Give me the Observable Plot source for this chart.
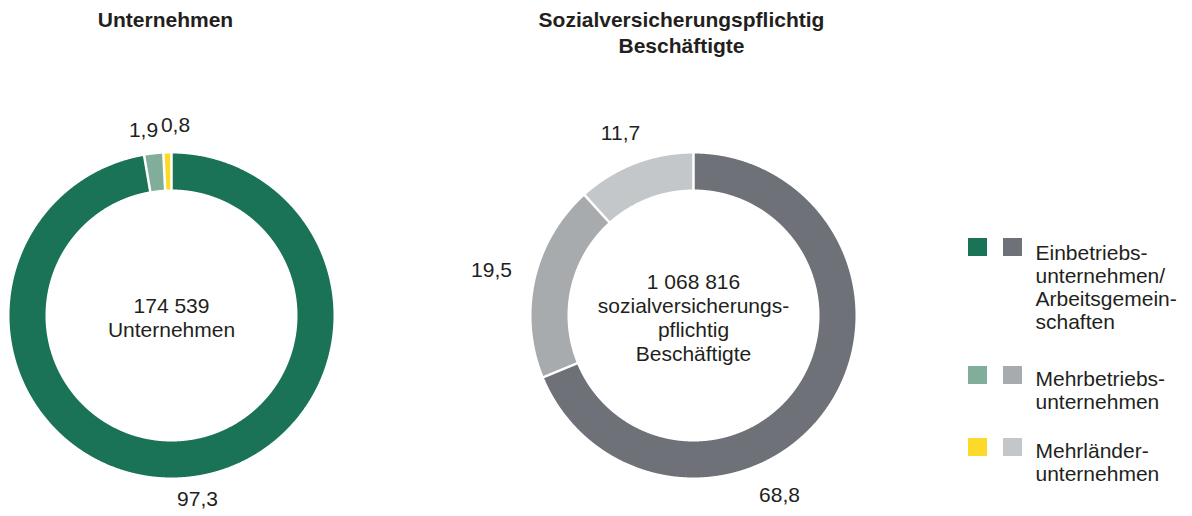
<!DOCTYPE html>
<html><head><meta charset="utf-8">
<script src="https://cdn.jsdelivr.net/npm/d3@7"></script>
<script src="https://cdn.jsdelivr.net/npm/@observablehq/plot@0.6"></script>
<style>html,body{margin:0;padding:0;background:#fff} svg{display:block}</style>
</head><body><div id="chart"></div>
<script>
// ---- data ----
const panelTitles = ["Unternehmen", "Sozialversicherungspflichtig\nBeschäftigte"];
const categories = ["Einbetriebsunternehmen/Arbeitsgemeinschaften", "Mehrbetriebsunternehmen", "Mehrländerunternehmen"];
const unternehmenShares = [97.3, 1.9, 0.8];
const beschaeftigteShares = [68.8, 19.5, 11.7];
const unternehmenLabels = ["97,3", "1,9", "0,8"];
const beschaeftigteLabels = ["68,8", "19,5", "11,7"];
const unternehmenColors = ["#1a7257", "#80ae9b", "#fdd92a"];
const beschaeftigteColors = ["#6e7178", "#a8abae", "#c3c7c9"];
const centerTexts = ["174 539\nUnternehmen", "1 068 816\nsozialversicherungs-\npflichtig\nBeschäftigte"];
const legendLabels = ["Einbetriebs-\nunternehmen/\nArbeitsgemein-\nschaften", "Mehrbetriebs-\nunternehmen", "Mehrländer-\nunternehmen"];

// ---- layout ----
const W = 1192, H = 516;
const CX = [171, 693], CY = 315, R = 162, RI = 126;
const titleX = [165, 681], titleY = [18, 31];
const labelOffsets = [[[26, 184], [-28, -185], [4, -190]], [[86, 180], [-202, -45], [-73, -182]]];
const legendRowTop = [238, 366, 438];
const legendTextTop = [243, 369, 441];
const swatchX = [[968, 987], [1003, 1022]];
const legendTextX = 1035;
const FS = 21;

const series = [unternehmenShares, beschaeftigteShares];
const seriesLabels = [unternehmenLabels, beschaeftigteLabels];
const palettes = [unternehmenColors, beschaeftigteColors];
const pie = d3.pie().sort(null).value(d => d);

const polys = [], seps = [], labels = [];
series.forEach((vals, p) => {
  const cx = CX[p];
  const arcs = pie(vals);
  arcs.forEach((a, i) => {
    const key = p + "-" + i;
    const color = palettes[p][i];
    const n = Math.max(2, Math.ceil((a.endAngle - a.startAngle) / 0.004));
    for (let k = 0; k <= n; k++) {
      const t = a.startAngle + (a.endAngle - a.startAngle) * k / n;
      polys.push({key, color, x: cx + R * Math.sin(t), y: CY - R * Math.cos(t)});
    }
    for (let k = n; k >= 0; k--) {
      const t = a.startAngle + (a.endAngle - a.startAngle) * k / n;
      polys.push({key, color, x: cx + RI * Math.sin(t), y: CY - RI * Math.cos(t)});
    }
    const s = a.startAngle;
    seps.push({x1: cx + (RI - 2) * Math.sin(s), y1: CY - (RI - 2) * Math.cos(s), x2: cx + (R + 2) * Math.sin(s), y2: CY - (R + 2) * Math.cos(s)});
    labels.push({text: seriesLabels[p][i], x: cx + labelOffsets[p][i][0], y: CY + labelOffsets[p][i][1]});
  });
});

const centers = centerTexts.map((t, p) => ({text: t, x: CX[p], y: CY + 2}));
const titles = panelTitles.map((t, p) => ({text: t, x: titleX[p], y: titleY[p]}));
const swatches = [];
categories.forEach((c, i) => {
  palettes.forEach((pal, p) => swatches.push({x1: swatchX[p][0], x2: swatchX[p][1], y1: legendRowTop[i], y2: legendRowTop[i] + 18, color: pal[i]}));
});
const legendTexts = legendLabels.map((t, i) => ({text: t, x: legendTextX, y: legendTextTop[i]}));

const chart = Plot.plot({
  width: W, height: H, margin: 0,
  x: {domain: [0, W], range: [0, W], axis: null},
  y: {domain: [0, H], range: [0, H], axis: null},
  color: {type: "identity"},
  style: {fontFamily: "'Liberation Sans', Arial, sans-serif", color: "#231f20", background: "#fff", overflow: "visible"},
  marks: [
    Plot.line(polys, {x: "x", y: "y", z: "key", fill: "color", stroke: "none", curve: "linear-closed"}),
    Plot.link(seps, {x1: "x1", y1: "y1", x2: "x2", y2: "y2", stroke: "white", strokeWidth: 2.5}),
    Plot.text(labels, {x: "x", y: "y", text: "text", fontSize: FS, fill: "#231f20"}),
    Plot.text(centers, {x: "x", y: "y", text: "text", fontSize: FS, lineHeight: 24 / FS, fill: "#231f20"}),
    Plot.text(titles, {x: "x", y: "y", text: "text", fontSize: FS, fontWeight: "bold", lineHeight: 26 / FS, fill: "#231f20"}),
    Plot.rect(swatches, {x1: "x1", x2: "x2", y1: "y1", y2: "y2", fill: "color"}),
    Plot.text(legendTexts, {x: "x", y: "y", text: "text", fontSize: FS, textAnchor: "start", lineAnchor: "top", lineHeight: 23 / FS, fill: "#231f20"})
  ]
});
document.getElementById("chart").appendChild(chart);
</script>
</body></html>
